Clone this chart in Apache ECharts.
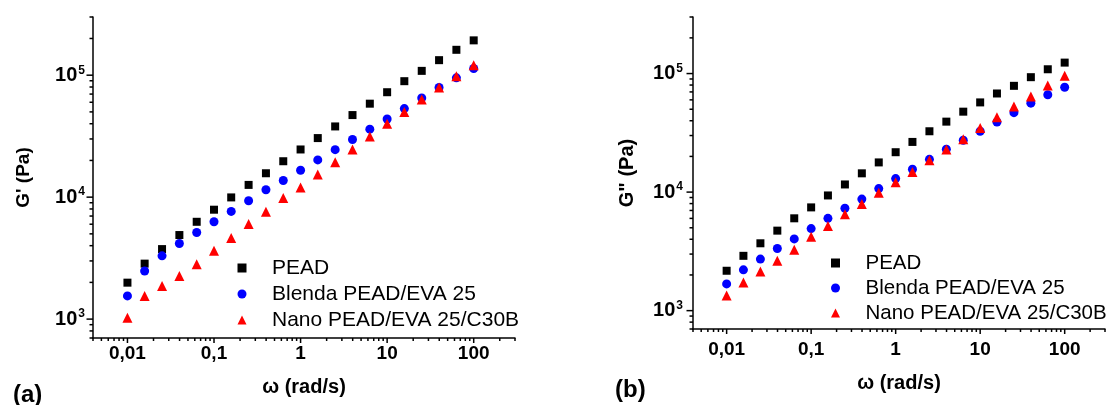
<!DOCTYPE html>
<html>
<head>
<meta charset="utf-8">
<style>
  html, body { margin: 0; padding: 0; background: #fff; }
  #chart { width: 1106px; height: 405px; }
</style>
<script src="https://cdn.jsdelivr.net/npm/echarts@6/dist/echarts.min.js"></script>
</head>
<body>
<div id="chart"></div>
<script>
// angular frequency (rad/s)
var omega = [0.01, 0.0158, 0.0251, 0.0398, 0.0631, 0.1, 0.158, 0.251, 0.398, 0.631, 1, 1.58, 2.51, 3.98, 6.31, 10, 15.8, 25.1, 39.8, 63.1, 100];

// (a) storage modulus G' (Pa)
var gStoragePEAD = [1990, 2850, 3750, 4890, 6280, 7890, 9950, 12600, 15700, 19700, 24600, 30500, 38000, 47100, 58400, 72500, 89300, 108500, 132800, 161500, 193000];
var gStorageBlenda = [1550, 2480, 3300, 4170, 5130, 6280, 7640, 9350, 11500, 13700, 16600, 20200, 24500, 29700, 36100, 43700, 53200, 65000, 79200, 95100, 113500];
var gStorageNano = [1025, 1550, 1870, 2260, 2820, 3630, 4620, 6020, 7600, 9840, 12000, 15300, 19300, 24600, 31500, 40000, 49900, 63100, 79200, 98200, 120800];

// (b) loss modulus G'' (Pa)
var gLossPEAD = [2170, 2900, 3700, 4730, 6010, 7430, 9370, 11600, 14400, 17800, 21700, 26500, 32600, 39300, 47700, 57100, 67900, 78800, 93200, 108700, 123700];
var gLossBlenda = [1680, 2210, 2720, 3340, 4030, 4920, 6010, 7300, 8730, 10700, 13000, 15600, 18900, 23000, 27400, 32600, 39000, 46800, 56300, 66200, 76700];
var gLossNano = [1340, 1730, 2140, 2630, 3260, 4210, 5170, 6500, 7930, 9870, 12100, 14800, 18600, 22900, 27900, 34700, 42900, 52800, 64100, 79300, 95700];

var seriesNames = ['PEAD', 'Blenda PEAD/EVA 25', 'Nano PEAD/EVA 25/C30B'];

// axis ranges and ticks
var X_MIN = 0.004, X_MAX = 300;
var Y_MIN = 700, Y_MAX = 300000;
var xMajor = [0.01, 0.1, 1, 10, 100];
var xTickLabels = ['0,01', '0,1', '1', '10', '100'];
var yMajor = [1000, 10000, 100000];
var yExponents = ['3', '4', '5'];
var xDecades = [0.001, 0.01, 0.1, 1, 10, 100];
var yDecades = [100, 1000, 10000, 100000];
var minorSteps = [2, 3, 4, 5, 6, 7, 8, 9];

var FONT = "'Liberation Sans', Arial, Helvetica, sans-serif";

function minorTicks(decades, lo, hi) {
  var out = [];
  decades.forEach(function (d) {
    minorSteps.forEach(function (m) {
      var v = d * m;
      if (v >= lo * 0.999 && v <= hi * 1.001) out.push(v);
    });
  });
  return out;
}
var xMinor = minorTicks(xDecades, X_MIN, X_MAX);
var yMinor = minorTicks(yDecades, Y_MIN, Y_MAX);

function near(v, list) {
  for (var i = 0; i < list.length; i++) {
    if (Math.abs(Math.log10(v) - Math.log10(list[i])) < 1e-6) return i;
  }
  return -1;
}

function pairs(ys) {
  return omega.map(function (x, i) { return [x, ys[i]]; });
}

// ticks drawn through the axis scales (outward, Origin style)
function tickSeries(gi, dir, vals, len) {
  return {
    type: 'custom',
    xAxisIndex: gi,
    yAxisIndex: gi,
    silent: true,
    clip: false,
    z: 1,
    data: vals.map(function (v) { return dir === 'x' ? [v, Y_MIN] : [X_MIN, v]; }),
    renderItem: function (params, api) {
      var p = api.coord([api.value(0), api.value(1)]);
      var shape = dir === 'x'
        ? { x1: p[0], y1: p[1], x2: p[0], y2: p[1] + len }
        : { x1: p[0], y1: p[1], x2: p[0] - len, y2: p[1] };
      return { type: 'line', shape: shape, style: { stroke: '#000', lineWidth: 1.5 } };
    }
  };
}

function scatter(gi, name, ys, symbol, size, color) {
  return {
    type: 'scatter',
    name: name,
    xAxisIndex: gi,
    yAxisIndex: gi,
    symbol: symbol,
    symbolSize: size,
    itemStyle: { color: color, opacity: 1 },
    z: 5,
    data: pairs(ys)
  };
}

function xAxisFor(gi, labelMargin, nameGap) {
  return {
    type: 'log',
    logBase: 10,
    gridIndex: gi,
    min: X_MIN,
    max: X_MAX,
    name: 'ω (rad/s)',
    nameLocation: 'middle',
    nameGap: nameGap,
    nameTextStyle: { fontSize: 20, fontWeight: 'bold', color: '#000', fontFamily: FONT },
    axisLine: { show: true, lineStyle: { color: '#000', width: 1.5 } },
    axisTick: { show: false },
    splitLine: { show: false },
    minorTick: { show: false },
    axisLabel: {
      margin: labelMargin,
      showMinLabel: false,
      showMaxLabel: false,
      fontSize: 19,
      fontWeight: 'bold',
      color: '#000',
      fontFamily: FONT,
      formatter: function (v) {
        var i = near(v, xMajor);
        return i < 0 ? '' : xTickLabels[i];
      }
    }
  };
}

function yAxisFor(gi, title, labelMargin, nameGap, nameSize) {
  return {
    type: 'log',
    logBase: 10,
    gridIndex: gi,
    min: Y_MIN,
    max: Y_MAX,
    name: title,
    nameLocation: 'middle',
    nameRotate: 90,
    nameGap: nameGap,
    nameTextStyle: { fontSize: nameSize, fontWeight: 'bold', color: '#000', fontFamily: FONT },
    axisLine: { show: true, lineStyle: { color: '#000', width: 1.5 } },
    axisTick: { show: false },
    splitLine: { show: false },
    minorTick: { show: false },
    axisLabel: {
      margin: labelMargin,
      showMinLabel: false,
      showMaxLabel: false,
      color: '#000',
      formatter: function (v) {
        var i = near(v, yMajor);
        return i < 0 ? '' : '{b|10}{s|' + yExponents[i] + '}';
      },
      rich: {
        b: { fontSize: 20, fontWeight: 'bold', color: '#000', fontFamily: FONT, lineHeight: 22 },
        s: { fontSize: 12, fontWeight: 'bold', color: '#000', fontFamily: FONT, verticalAlign: 'top', lineHeight: 12, padding: [0, 0, 0, 1] }
      }
    }
  };
}

function legendFor(left, top, rowHeight, fontSize, textGap) {
  return {
    orient: 'vertical',
    left: left,
    top: top,
    itemWidth: 9,
    itemHeight: 9,
    itemGap: 0,
    symbolKeepAspect: true,
    selectedMode: false,
    data: seriesNames,
    textStyle: { fontSize: fontSize, lineHeight: rowHeight, color: '#000', fontFamily: FONT, padding: [0, 0, 0, textGap] }
  };
}

var chart = echarts.init(document.getElementById('chart'), null, { renderer: 'canvas' });

chart.setOption({
  animation: false,
  backgroundColor: '#fff',
  title: [
    { text: '(a)', left: 8, top: 378, textStyle: { fontSize: 24, fontWeight: 'bold', color: '#000', fontFamily: FONT } },
    { text: '(b)', left: 610, top: 373, textStyle: { fontSize: 24, fontWeight: 'bold', color: '#000', fontFamily: FONT } }
  ],
  legend: [
    legendFor(232.5, 250, 26, 21, 20.5),
    legendFor(826, 245.5, 25, 20.5, 20.5)
  ],
  grid: [
    { left: 93, top: 17, width: 422, height: 321 },
    { left: 693, top: 17, width: 412, height: 312 }
  ],
  xAxis: [xAxisFor(0, 6, 39), xAxisFor(1, 11, 44)],
  yAxis: [yAxisFor(0, "G' (Pa)", 8, 60, 19), yAxisFor(1, 'G" (Pa)', 10, 56, 20)],
  series: [
    scatter(0, seriesNames[0], gStoragePEAD, 'rect', 8, '#000000'),
    scatter(0, seriesNames[1], gStorageBlenda, 'circle', 9, '#0000ff'),
    scatter(0, seriesNames[2], gStorageNano, 'triangle', 10, '#ff0000'),
    scatter(1, seriesNames[0], gLossPEAD, 'rect', 8, '#000000'),
    scatter(1, seriesNames[1], gLossBlenda, 'circle', 9, '#0000ff'),
    scatter(1, seriesNames[2], gLossNano, 'triangle', 10, '#ff0000'),
    tickSeries(0, 'x', xMajor, 5),
    tickSeries(0, 'x', xMinor, 3),
    tickSeries(0, 'y', yMajor, 6.5),
    tickSeries(0, 'y', yMinor, 3.5),
    tickSeries(1, 'x', xMajor, 5),
    tickSeries(1, 'x', xMinor, 3),
    tickSeries(1, 'y', yMajor, 6.5),
    tickSeries(1, 'y', yMinor, 3.5)
  ]
});
</script>
</body>
</html>
